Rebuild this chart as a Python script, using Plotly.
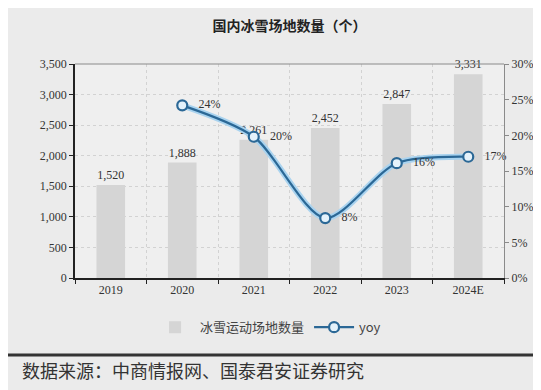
import plotly.graph_objects as go

categories = ["2019", "2020", "2021", "2022", "2023", "2024E"]
venues = [1520, 1888, 2261, 2452, 2847, 3331]
yoy_years = ["2020", "2021", "2022", "2023", "2024E"]
yoy = [24.2, 19.8, 8.4, 16.1, 17.0]
yoy_labels = ["24%", "20%", "8%", "16%", "17%"]
left_ticks = [0, 500, 1000, 1500, 2000, 2500, 3000, 3500]
right_ticks = [0, 5, 10, 15, 20, 25, 30]
right_tick_text = ["0%", "5%", "10%", "15%", "20%", "25%", "30%"]

serif = "Liberation Serif, Times New Roman, serif"
cjk = "Noto Sans CJK SC, sans-serif"
line_col = "#2b6896"
pad = "\u00a0\u00a0\u00a0"

fig = go.Figure()
fig.add_trace(go.Bar(
    x=categories, y=venues, name="冰雪运动场地数量",
    marker=dict(color="#d5d5d5", line=dict(width=0)), width=0.4,
    text=venues, texttemplate="%{y:,}", textposition="outside", cliponaxis=False,
    textfont=dict(family=serif, size=12, color="#333"),
))
fig.add_trace(go.Scatter(
    x=yoy_years, y=yoy, yaxis="y2", mode="lines", showlegend=False, hoverinfo="skip",
    line=dict(color="#a9d3ef", width=6, shape="spline", smoothing=0.8),
))
fig.add_trace(go.Scatter(
    x=yoy_years, y=yoy, yaxis="y2", name="yoy", mode="lines+markers+text",
    line=dict(color=line_col, width=2.2, shape="spline", smoothing=0.8),
    marker=dict(symbol="circle", size=10, color="#e4f2fb", line=dict(color=line_col, width=2.2)),
    text=[pad + t for t in yoy_labels], textposition="middle right", cliponaxis=False,
    textfont=dict(family=serif, size=12, color="#333"),
))

fig.update_layout(
    width=541, height=390,
    margin=dict(l=67, r=45, t=56, b=120, autoexpand=False),
    paper_bgcolor="#ebebeb", plot_bgcolor="#efefef",
    title=dict(text="<b>国内冰雪场地数量（个）</b>", x=0.5, xref="paper", y=1 - 18 / 390, yanchor="middle",
               font=dict(family=cjk, size=14, color="#222")),
    xaxis=dict(type="category", tickson="boundaries", ticks="outside", ticklen=4, tickcolor="#222",
               showline=True, linecolor="#222", linewidth=1.5, automargin=False,
               showgrid=True, gridcolor="#d2d2d2", griddash="dot", gridwidth=1,
               tickfont=dict(family=serif, size=12, color="#333")),
    yaxis=dict(range=[0, 3500], tickvals=left_ticks, tickformat=",", showline=True, linecolor="#222",
               linewidth=1.5, ticks="outside", ticklen=4, tickcolor="#222", automargin=False,
               showgrid=True, gridcolor="#d2d2d2", griddash="dot", gridwidth=1, zeroline=False,
               tickfont=dict(family=serif, size=12, color="#333")),
    yaxis2=dict(range=[0, 30], tickmode="array", tickvals=right_ticks, ticktext=right_tick_text,
                overlaying="y", side="right", automargin=False,
                showline=True, linecolor="#8a8a8a", linewidth=1, ticks="outside", ticklen=4,
                tickcolor="#8a8a8a", showgrid=False, zeroline=False,
                tickfont=dict(family=serif, size=12, color="#333")),
    legend=dict(orientation="h", x=0.45, xanchor="center", y=-0.23, yanchor="middle",
                font=dict(family=cjk, size=13, color="#444"), bgcolor="rgba(0,0,0,0)",
                itemwidth=40),
    showlegend=True,
)

fig.add_shape(type="line", xref="paper", yref="paper", x0=0, x1=1, y0=1, y1=1,
              line=dict(color="#8a8a8a", width=1))
fig.add_shape(type="line", xref="paper", yref="paper", x0=-67 / 429, x1=(541 - 67) / 429,
              y0=-(347 - 270) / 214, y1=-(347 - 270) / 214, line=dict(color="#333", width=3))
fig.add_annotation(text="数据来源：中商情报网、国泰君安证券研究", xref="paper", yref="paper",
                   x=-55 / 429, xanchor="left", y=-(362 - 270) / 214, yanchor="middle",
                   showarrow=False, font=dict(family=cjk, size=18, color="#333"))

fig.write_html("out.html")
